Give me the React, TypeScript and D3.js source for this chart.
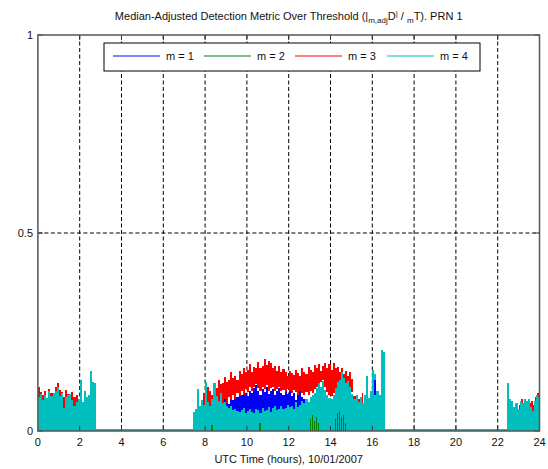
import React from 'react';
import * as d3 from 'd3';

// ---- chart data -------------------------------------------------------
const xTickValues = [0, 2, 4, 6, 8, 10, 12, 14, 16, 18, 20, 22, 24];
const yTickValues = [0, 0.5, 1];
const yTickLabels = ['0', '0.5', '1'];
const seriesNames = ['m = 1', 'm = 2', 'm = 3', 'm = 4'];
const seriesColors = ['#0000ff', '#008000', '#ff0000', '#00bfbf'];

// sample spacing of the binned metric (hours)
const BIN = 0.1;

// m = 4, first pass (00:00 - 02:42)
const m4StartA = 0.0;
const m4A = [0.085, 0.094, 0.078, 0.092, 0.083, 0.1, 0.088, 0.097, 0.101, 0.11, 0.088, 0.096, 0.058,
  0.086, 0.091, 0.094, 0.079, 0.062, 0.074, 0.082, 0.13, 0.073, 0.1, 0.087, 0.09, 0.152, 0.125, 0.12];
// m = 4, second pass (07:24 - 16:30)
const m4StartB = 7.4;
const m4B = [0.048, 0.056, 0.105, 0.062, 0.078, 0.066, 0.125, 0.072, 0.064, 0.082, 0.12, 0.088, 0.076,
  0.096, 0.07, 0.074, 0.064, 0.058, 0.062, 0.052, 0.056, 0.05, 0.047, 0.054, 0.058, 0.046, 0.05, 0.056,
  0.048, 0.046, 0.055, 0.052, 0.045, 0.058, 0.05, 0.054, 0.06, 0.049, 0.057, 0.062, 0.052, 0.055,
  0.063, 0.056, 0.058, 0.066, 0.06, 0.064, 0.056, 0.072, 0.061, 0.066, 0.076, 0.07, 0.082, 0.074,
  0.086, 0.092, 0.095, 0.108, 0.12, 0.112, 0.126, 0.104, 0.09, 0.084, 0.08, 0.092, 0.108, 0.124, 0.13,
  0.15, 0.134, 0.12, 0.126, 0.11, 0.094, 0.08, 0.092, 0.074, 0.086, 0.07, 0.092, 0.14, 0.084, 0.102,
  0.155, 0.145, 0.1, 0.09, 0.205, 0.2];
// m = 4, third pass (22:27 - 24:00)
const m4StartC = 22.45;
const m4C = [0.12, 0.08, 0.075, 0.06, 0.07, 0.055, 0.075, 0.07, 0.08, 0.075, 0.08, 0.06, 0.05, 0.075,
  0.09, 0.085, 0.08];

// m = 3
const m3StartA = 0.0;
const m3AHi = [0.112, 0.098, 0.09, 0.102, 0.082, 0.106, 0.096, 0.088, 0.112, 0.121, 0.104, 0.098, 0.086,
  0.103, 0.094, 0.09, 0.098, 0.085, 0.092, 0.078, 0.088, 0.07, 0.076, 0.082, 0.07, 0.08, 0.075];
const m3ALo = [0.06, 0.052, 0.048, 0.062, 0.055, 0.05, 0.064, 0.056, 0.05, 0.055, 0.062, 0.05, 0.048,
  0.058, 0.06, 0.05, 0.055, 0.05, 0.056, 0.05, 0.05, 0.05, 0.05, 0.05, 0.05, 0.05, 0.05];
const m3StartB = 7.9;
const m3BHi = [0.095, 0.085, 0.11, 0.1, 0.092, 0.115, 0.108, 0.128, 0.118, 0.122, 0.137, 0.125, 0.13,
  0.148, 0.135, 0.14, 0.13, 0.152, 0.145, 0.16, 0.148, 0.155, 0.168, 0.15, 0.162, 0.158, 0.174, 0.16,
  0.165, 0.183, 0.166, 0.176, 0.172, 0.158, 0.163, 0.152, 0.165, 0.148, 0.156, 0.15, 0.138, 0.152,
  0.146, 0.142, 0.155, 0.147, 0.14, 0.158, 0.15, 0.145, 0.162, 0.155, 0.15, 0.166, 0.158, 0.17, 0.152,
  0.164, 0.172, 0.16, 0.168, 0.155, 0.172, 0.158, 0.162, 0.15, 0.158, 0.144, 0.152, 0.14, 0.148, 0.132,
  0.088, 0.07, 0.082];
const m3BLo = [0.05, 0.05, 0.055, 0.05, 0.06, 0.055, 0.065, 0.06, 0.075, 0.065, 0.08, 0.07, 0.085, 0.078,
  0.09, 0.082, 0.095, 0.088, 0.1, 0.092, 0.105, 0.098, 0.11, 0.1, 0.112, 0.118, 0.108, 0.1, 0.112, 0.105,
  0.115, 0.1, 0.108, 0.112, 0.1, 0.106, 0.11, 0.1, 0.104, 0.098, 0.105, 0.1, 0.095, 0.104, 0.098, 0.092,
  0.1, 0.095, 0.09, 0.098, 0.092, 0.1, 0.095, 0.105, 0.11, 0.12, 0.125, 0.13, 0.11, 0.098, 0.092, 0.088,
  0.095, 0.105, 0.12, 0.128, 0.14, 0.13, 0.12, 0.122, 0.11, 0.098, 0.075, 0.06, 0.065];
const m3StartC = 23.0;
const m3CHi = [0.065, 0.08, 0.06, 0.07, 0.065, 0.07, 0.075, 0.065, 0.085, 0.095];
const m3CLo = [0.045, 0.045, 0.045, 0.045, 0.045, 0.045, 0.045, 0.045, 0.045, 0.045];
// m = 3 isolated late-pass samples
const m3SpotTimes = [15.5, 15.6, 16.2];
const m3SpotHi = [0.095, 0.08, 0.09];
const m3SpotLo = [0.05, 0.05, 0.07];

// m = 1
const m1StartA = 0.0;
const m1AHi = [0.06, 0.065, 0.075, 0.06, 0.055, 0.06, 0.065, 0.06, 0.07, 0.075, 0.095, 0.08, 0.07,
  0.075, 0.085, 0.07, 0.065, 0.06, 0.065, 0.06, 0.06, 0.055, 0.06, 0.055, 0.05, 0.055, 0.05];
const m1ALo = [0.03, 0.03, 0.03, 0.03, 0.03, 0.03, 0.03, 0.03, 0.03, 0.03, 0.03, 0.03, 0.03, 0.03,
  0.03, 0.03, 0.03, 0.03, 0.03, 0.03, 0.03, 0.03, 0.03, 0.03, 0.03, 0.03, 0.03];
const m1StartB = 8.7;
const m1BHi = [0.07, 0.062, 0.082, 0.075, 0.068, 0.088, 0.078, 0.092, 0.085, 0.098, 0.09, 0.105, 0.095,
  0.088, 0.102, 0.096, 0.108, 0.115, 0.1, 0.092, 0.106, 0.098, 0.11, 0.094, 0.1, 0.105, 0.09, 0.102,
  0.108, 0.096, 0.09, 0.102, 0.094, 0.1, 0.088, 0.095, 0.078, 0.092, 0.1, 0.085, 0.08];
const m1BLo = [0.045, 0.04, 0.048, 0.038, 0.042, 0.05, 0.04, 0.036, 0.045, 0.038, 0.042, 0.036, 0.044,
  0.04, 0.035, 0.046, 0.04, 0.05, 0.038, 0.036, 0.044, 0.04, 0.035, 0.042, 0.038, 0.045, 0.036, 0.04,
  0.044, 0.035, 0.042, 0.048, 0.04, 0.046, 0.042, 0.048, 0.052, 0.05, 0.058, 0.06, 0.065];
const m1SpotTimes = [14.3, 14.4, 16.1];
const m1SpotHi = [0.045, 0.035, 0.13];
const m1SpotLo = [0.01, 0.005, 0.09];

// m = 2 (small excursions only)
const m2SpotTimes = [8.3, 10.6, 13.0, 13.1, 13.2, 13.3, 13.4, 14.2, 14.3, 14.4, 14.5, 14.6, 14.7];
const m2SpotHi = [0.015, 0.02, 0.03, 0.04, 0.025, 0.035, 0.02, 0.03, 0.045, 0.05, 0.035, 0.04, 0.02];

// ---- layout -----------------------------------------------------------
const W = 548;
const H = 469;
const PLOT = { left: 37.9, right: 539.5, top: 35, bottom: 431 };
const FONT = 'Arial, "Liberation Sans", Helvetica, sans-serif';

const x = d3.scaleLinear().domain([0, 24]).range([PLOT.left, PLOT.right]);
const y = d3.scaleLinear().domain([0, 1]).range([PLOT.bottom, PLOT.top]);

function bandPath(start: number, hi: number[], lo?: number[]) {
  // each sample is held for one bin, giving the needle-like texture
  const vals = [...hi, hi[hi.length - 1]];
  const lows = lo ? [...lo, lo[lo.length - 1]] : null;
  const area = d3
    .area<number>()
    .x((_, i) => x(start + i * BIN))
    .y0((_, i) => y(lows ? lows[i] : 0))
    .y1((d) => y(d))
    .curve(d3.curveStepAfter);
  return area(vals) || '';
}

function spotPaths(times: number[], hi: number[], lo?: number[]) {
  return times.map((t, i) => {
    const x0 = x(t);
    const x1 = x(t + BIN * 0.6);
    const yt = y(hi[i]);
    const yb = y(lo ? lo[i] : 0);
    return `M${x0},${yb}L${x0},${yt}L${x1},${yt}L${x1},${yb}Z`;
  });
}

export default function App() {
  const gridX = xTickValues.filter((v) => v > 0 && v < 24);
  const legendX = [113, 204, 295, 387];
  const legendY = 56;

  return (
    <svg
      width={W}
      height={H}
      viewBox={`0 0 ${W} ${H}`}
      style={{ position: 'fixed', left: 0, top: 0, display: 'block', background: '#fff' }}
      fontFamily={FONT}
    >
      <rect x={0} y={0} width={W} height={H} fill="#fff" />
      <defs>
        <clipPath id="plotClip">
          <rect x={PLOT.left} y={PLOT.top} width={PLOT.right - PLOT.left} height={PLOT.bottom - PLOT.top} />
        </clipPath>
      </defs>

      {/* grid */}
      <g stroke="#000" strokeWidth={1} strokeDasharray="4,2.5" fill="none">
        {gridX.map((v) => (
          <line key={`gx${v}`} x1={x(v)} x2={x(v)} y1={PLOT.top} y2={PLOT.bottom} />
        ))}
        <line x1={PLOT.left} x2={PLOT.right} y1={y(0.5)} y2={y(0.5)} />
      </g>

      <g clipPath="url(#plotClip)" shapeRendering="crispEdges">
        {/* near-zero trace between passes */}
        <line x1={x(0)} x2={x(24)} y1={y(0.003)} y2={y(0.003)} stroke={seriesColors[3]} strokeWidth={1.5} />

        {/* m = 1 */}
        <path d={bandPath(m1StartA, m1AHi, m1ALo)} fill={seriesColors[0]} />
        <path d={bandPath(m1StartB, m1BHi, m1BLo)} fill={seriesColors[0]} />

        {/* m = 3 */}
        <path d={bandPath(m3StartA, m3AHi, m3ALo)} fill={seriesColors[2]} />
        <path d={bandPath(m3StartB, m3BHi, m3BLo)} fill={seriesColors[2]} />
        <path d={bandPath(m3StartC, m3CHi, m3CLo)} fill={seriesColors[2]} />
        {spotPaths(m3SpotTimes, m3SpotHi, m3SpotLo).map((d, i) => (
          <path key={`r${i}`} d={d} fill={seriesColors[2]} />
        ))}

        {/* m = 4 */}
        <path d={bandPath(m4StartA, m4A)} fill={seriesColors[3]} />
        <path d={bandPath(m4StartB, m4B)} fill={seriesColors[3]} />
        <path d={bandPath(m4StartC, m4C)} fill={seriesColors[3]} />

        {/* low-level excursions of m = 1 and m = 2 that show through */}
        {spotPaths(m1SpotTimes, m1SpotHi, m1SpotLo).map((d, i) => (
          <path key={`b${i}`} d={d} fill={seriesColors[0]} />
        ))}
        {spotPaths(m2SpotTimes, m2SpotHi).map((d, i) => (
          <path key={`g${i}`} d={d} fill={seriesColors[1]} />
        ))}
      </g>

      {/* ticks */}
      <g stroke="#333" strokeWidth={1}>
        {gridX.map((v) => (
          <g key={`t${v}`}>
            <line x1={x(v)} x2={x(v)} y1={PLOT.bottom} y2={PLOT.bottom - 5} />
            <line x1={x(v)} x2={x(v)} y1={PLOT.top} y2={PLOT.top + 5} />
          </g>
        ))}
        {yTickValues.map((v) => (
          <g key={`ty${v}`}>
            <line x1={PLOT.left} x2={PLOT.left + 5} y1={y(v)} y2={y(v)} />
            <line x1={PLOT.right} x2={PLOT.right - 5} y1={y(v)} y2={y(v)} />
          </g>
        ))}
      </g>

      {/* axes box */}
      <rect
        x={PLOT.left}
        y={PLOT.top}
        width={PLOT.right - PLOT.left}
        height={PLOT.bottom - PLOT.top}
        fill="none"
        stroke="#555"
        strokeWidth={1.5}
      />

      {/* tick labels */}
      <g fontSize={11} fill="#111">
        {xTickValues.map((v) => (
          <text key={`lx${v}`} x={x(v)} y={446} textAnchor="middle">
            {v}
          </text>
        ))}
        {yTickValues.map((v, i) => (
          <text key={`ly${v}`} x={33} y={y(v) + 4} textAnchor="end">
            {yTickLabels[i]}
          </text>
        ))}
      </g>

      <text x={(PLOT.left + PLOT.right) / 2} y={463} textAnchor="middle" fontSize={11} fill="#111">
        UTC Time (hours), 10/01/2007
      </text>

      {/* title */}
      <text x={(PLOT.left + PLOT.right) / 2} y={20} textAnchor="middle" fontSize={11} fill="#111">
        Median-Adjusted Detection Metric Over Threshold (|
        <tspan dy={3} fontSize={8}>m,adj</tspan>
        <tspan dy={-3}>D</tspan>
        <tspan dy={-4} fontSize={8}>|</tspan>
        <tspan dy={4}> / </tspan>
        <tspan dy={3} fontSize={8}>m</tspan>
        <tspan dy={-3}>T). PRN 1</tspan>
      </text>

      {/* legend */}
      <g>
        <rect x={104} y={43} width={376} height={28} fill="#fff" stroke="#000" strokeWidth={1} />
        {seriesNames.map((name, i) => (
          <g key={name}>
            <line
              x1={legendX[i]}
              x2={legendX[i] + 47}
              y1={legendY}
              y2={legendY}
              stroke={seriesColors[i]}
              strokeWidth={1.2}
            />
            <text x={legendX[i] + 53} y={legendY + 4} fontSize={11} fill="#111">
              {name}
            </text>
          </g>
        ))}
      </g>
    </svg>
  );
}
